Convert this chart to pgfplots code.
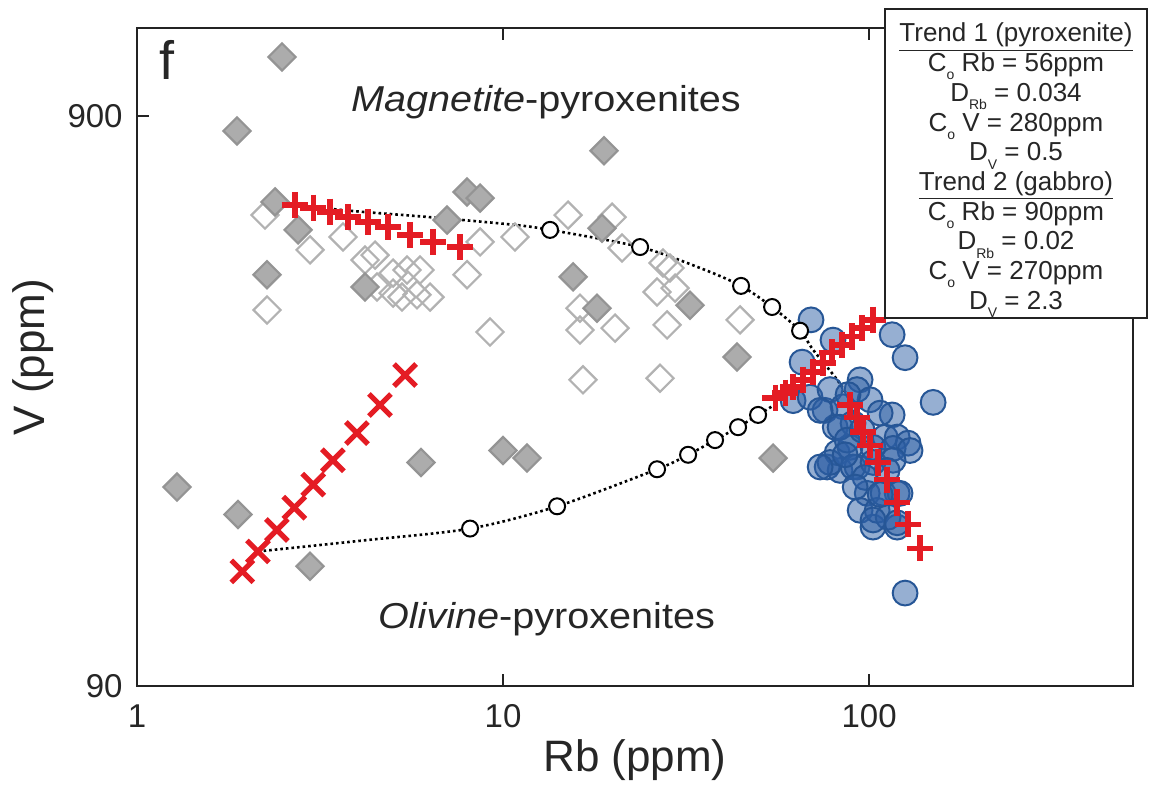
\documentclass[border=0pt]{standalone}
\usepackage{fontspec}
\setmainfont{Liberation Sans}
\usepackage{pgfplots}
\pgfplotsset{compat=1.18}
\definecolor{dfill}{RGB}{172,172,172}
\definecolor{dedge}{RGB}{148,148,148}
\definecolor{oedge}{RGB}{178,178,178}
\definecolor{bfill}{RGB}{45,95,165}
\definecolor{bedge}{RGB}{38,86,150}
\definecolor{rred}{RGB}{228,28,36}
\definecolor{frame}{RGB}{35,35,35}
\newcommand{\sub}[1]{\raisebox{-0.6ex}{\fontsize{7}{7}\selectfont #1}}
\begin{document}
\begin{tikzpicture}
\begin{axis}[
  at={(0,0)}, anchor=south west,
  scale only axis, width=498pt, height=329pt,
  xmode=log, ymode=log,
  xmin=1, xmax=526, ymin=90, ymax=1284,
  xtick={1,10,100}, xticklabels={\mbox{1},\mbox{10},\mbox{100}},
  ytick={90,900}, yticklabels={\mbox{90},\mbox{900}},
  xminorticks=false, yminorticks=false,
  tick align=inside, major tick length=6pt,
  tick style={line width=1.2pt, color=frame},
  axis line style={line width=1.4pt, color=frame},
  tick label style={font=\fontsize{16.5}{18}\selectfont, text=black!85},
  xticklabel style={anchor=base, inner sep=0pt, yshift=-21pt},
  yticklabel style={anchor=east, inner sep=0pt, xshift=-7pt},
  xlabel={Rb (ppm)}, ylabel={V (ppm)},
  label style={font=\fontsize{22}{26}\selectfont, text=black!85},
  xlabel style={at={(axis description cs:0.5,-0.1307)}, anchor=base, inner sep=0pt},
  ylabel style={at={(axis description cs:-0.083,0.5)}, anchor=south, inner sep=0pt},
  clip=false,
]
% open diamonds
\addplot[only marks, mark=square, mark size=4.8pt,
  mark options={rotate=45, draw=oedge, line width=1.1pt, fill=none}] table {
2.237 603
2.266 411
2.97 524
3.655 552
4.198 503
4.47 513
5.006 477
5.467 483
5.932 483
4.527 451
5.006 440
5.297 433
5.821 437
6.318 433
7.975 474
8.656 541
10.78 552
9.215 376
15.05 603
19.86 598
21.14 528
16.23 414
16.23 379
20.23 382
27.36 497
28.59 487
26.35 442
29.51 449
28.06 387
44.41 395
16.54 310
26.85 312
};
% filled diamonds
\addplot[only marks, mark=square*, mark size=4.8pt,
  mark options={rotate=45, draw=dedge, fill=dfill, line width=1.1pt}] table {
2.49 1142
1.876 847
18.88 782
2.383 636
2.754 568
2.266 474
4.198 451
7.975 662
8.656 646
7.031 591
18.64 572
15.54 470
18.06 414
32.43 419
43.58 340
1.286 201
1.888 180
2.97 146
5.97 222
10.0 233
11.63 226
54.67 226
};
% blue circles (gabbro)
\addplot[only marks, mark=*, mark size=6.2pt,
  mark options={fill=bfill, fill opacity=0.5, draw=bedge, line width=1pt}] table {
69.4 395
115.6 372
125.4 339
149.6 283
65.6 333
79.7 364
62.0 285
69.0 289
94.5 310
92.7 298
100.6 286
115.6 269
75.8 274
78.2 298
84.9 278
80.8 256
90.4 260
107.2 271
110.6 246
119.3 246
127.8 240
76.8 218
83.3 215
81.8 231
88.7 236
102.5 236
116.3 235
129.4 233
92.7 218
98.8 196
94.5 183
102.5 171
119.3 196
119.3 171
105.2 183
112.7 178
125.4 131
73.5 274
83.3 256
87.1 243
78.2 222
73.5 218
90.4 218
102.5 222
116.3 224
109.2 196
121.5 196
102.5 176
119.3 174
87.6 292
95.7 253
86.0 229
97.5 209
91.6 201
107.2 195
112.0 215
};
% mixing curves
\addplot[black, line width=1.3pt, dash pattern=on 1.3pt off 1.5pt, smooth, tension=0.5] table {
2.70 628
3.89 613
6.32 598
10.65 580
13.44 568
23.68 530
34.54 487
44.69 453
54.33 416
64.78 378
70.3 350
81.8 310
90.4 280
};
\addplot[black, line width=1.3pt, dash pattern=on 1.3pt off 1.5pt, smooth, tension=0.5] table {
2.141 155
4.145 162
8.126 170
14.05 186
26.35 216
32.03 229
37.95 243
43.86 256
49.74 269
56.07 282
};
\addplot[only marks, mark=*, mark size=4pt,
  mark options={fill=white, draw=black, line width=1pt}] table {
13.44 568
23.68 530
44.69 453
54.33 416
64.78 378
8.126 170
14.05 186
26.35 216
32.03 229
37.95 243
43.86 256
49.74 269
};
% red crosses
\addplot[only marks, mark=x, mark size=7.8pt,
  mark options={draw=rred, line width=2.6pt}] table {
1.94 143
2.14 155
2.41 169
2.69 185
3.03 203
3.43 224
3.99 250
4.61 280
5.40 316
};
\addplot[only marks, mark=+, mark size=6.6pt,
  mark options={draw=rred, line width=2.7pt}] table {
2.70 628
3.03 621
3.37 611
3.77 598
4.28 586
4.85 575
5.57 556
6.44 541
7.63 530
};
\addplot[only marks, mark=+, mark size=6.6pt,
  mark options={draw=rred, line width=2.7pt}] table {
55.4 288
59.0 294
62.0 301
66.0 310
70.3 320
74.9 332
79.2 346
84.4 357
89.9 369
95.7 382
102.5 395
};
\addplot[only marks, mark=+, mark size=6.6pt,
  mark options={draw=rred, line width=2.7pt}] table {
88.7 280
92.7 266
96.3 251
100.6 238
105.8 222
112.0 207
119.3 189
127.8 173
137.8 157
};
\end{axis}
% annotations
\node[font=\fontsize{18}{20}\selectfont, anchor=base, xscale=1.1, text=black!85] at (204.5pt,287pt) {\textit{Magnetite}-pyroxenites};
\node[font=\fontsize{18}{20}\selectfont, anchor=base, xscale=1.1, text=black!85] at (204.75pt,29pt) {\textit{Olivine}-pyroxenites};
\node[font=\fontsize{27}{30}\selectfont, anchor=base west, inner sep=0pt, text=black!85] at (11pt,303pt) {f};
% parameter box
\draw[line width=1.1pt, draw=frame, fill=white] (374pt,184pt) rectangle (505pt,338.5pt);
\begin{scope}[every node/.style={font=\fontsize{13}{15}\selectfont, anchor=base, inner sep=0pt, text=black!85}]
\node at (439.5pt,322pt) {\underline{Trend 1 (pyroxenite)}};
\node at (439.5pt,307.15pt) {C\sub{o} Rb = 56ppm};
\node at (439.5pt,292.3pt) {D\sub{Rb} = 0.034};
\node at (439.5pt,277.45pt) {C\sub{o} V = 280ppm};
\node at (439.5pt,262.6pt) {D\sub{V} = 0.5};
\node at (439.5pt,247.75pt) {\underline{Trend 2 (gabbro)}};
\node at (439.5pt,232.9pt) {C\sub{o} Rb = 90ppm};
\node at (439.5pt,218.05pt) {D\sub{Rb} = 0.02};
\node at (439.5pt,203.2pt) {C\sub{o} V = 270ppm};
\node at (439.5pt,188.35pt) {D\sub{V} = 2.3};
\end{scope}
\pgfresetboundingbox
\useasboundingbox (-68.5pt,-50.5pt) rectangle (508.5pt,343pt);
\end{tikzpicture}
\end{document}
